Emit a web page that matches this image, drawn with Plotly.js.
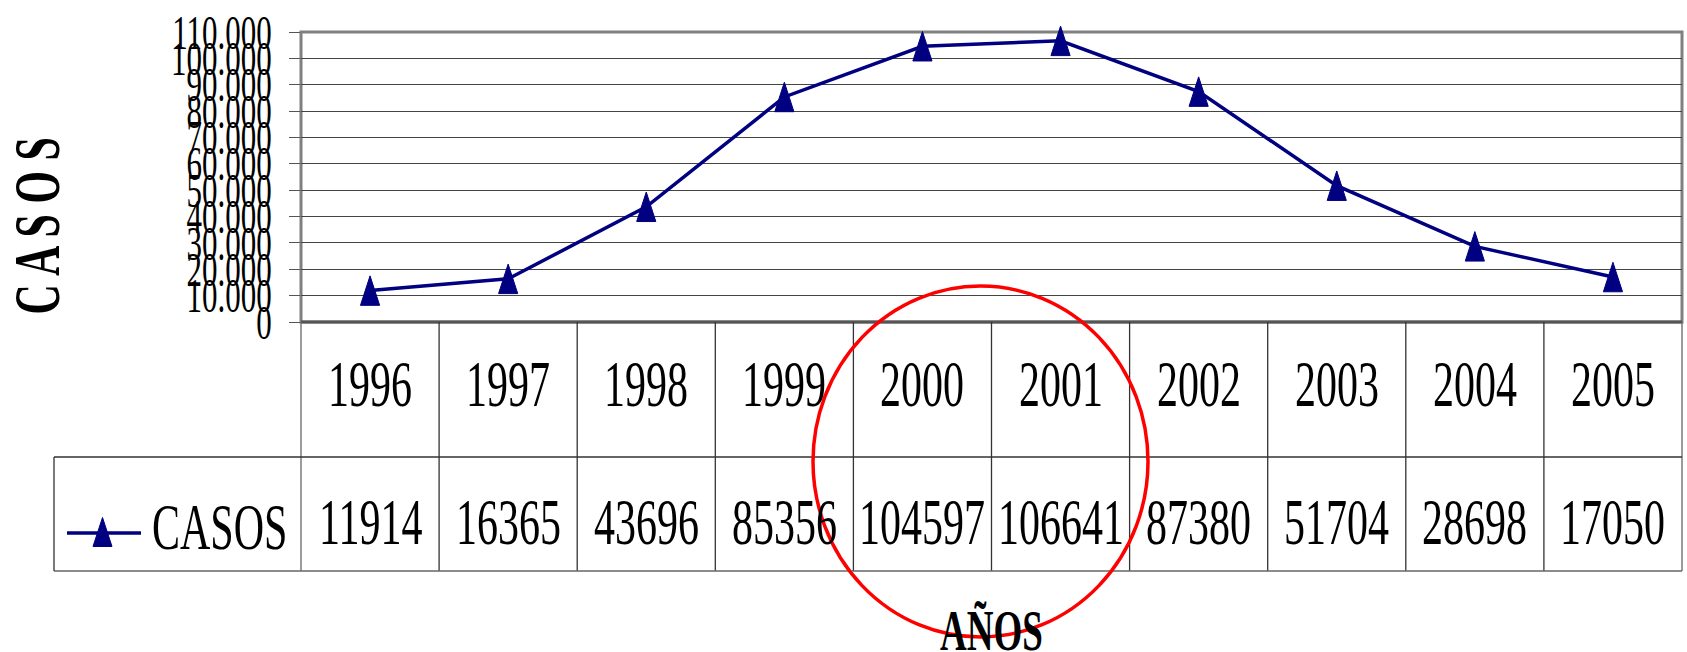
<!DOCTYPE html>
<html>
<head>
<meta charset="utf-8">
<script src="https://cdn.plot.ly/plotly-3.0.1.min.js"></script>
<style>
  html, body { margin: 0; padding: 0; background: #ffffff; }
  #chart { width: 1687px; height: 652px; }
</style>
</head>
<body>
<div id="chart"></div>
<script>
// ---------------- data ----------------
const years = ['1996', '1997', '1998', '1999', '2000', '2001', '2002', '2003', '2004', '2005'];
const casos = [11914, 16365, 43696, 85356, 104597, 106641, 87380, 51704, 28698, 17050];
const seriesName = 'CASOS';
const yAxisTitle = 'C A S O S';
const xAxisTitle = 'AÑOS';
const yMax = 110000;
const yStep = 10000;

// ---------------- layout helpers ----------------
const W = 1687, H = 652;
const M = { l: 301, r: 5, t: 32, b: 330 };
const plotW = W - M.l - M.r;
const plotH = H - M.t - M.b;
const px2x = px => (px - M.l) / plotW;            // pixel -> paper x
const px2y = py => (H - M.b - py) / plotH;        // pixel -> paper y

const NAVY = '#000080';
const SERIF = '"Liberation Serif", "Times New Roman", serif';
const LINEC = '#333333';
const MARKER_SIZE = 31;

const rowMid = px2y(457);
const rowBot = px2y(571);
const legendLeft = px2x(54);

const shapes = [];
// plot border
shapes.push({ type: 'rect', xref: 'paper', yref: 'paper', x0: 0, x1: 1, y0: 0, y1: 1,
  line: { color: '#808080', width: 3 }, layer: 'between' });
// darker bottom axis line
shapes.push({ type: 'line', xref: 'paper', yref: 'paper', x0: 0, x1: 1, y0: 0, y1: 0,
  line: { color: '#555555', width: 3 }, layer: 'above' });
// table vertical lines (column boundaries)
for (let i = 0; i <= years.length; i++) {
  const xp = i / years.length;
  shapes.push({ type: 'line', xref: 'paper', yref: 'paper', x0: xp, x1: xp, y0: 0, y1: rowBot,
    line: { color: i === 0 || i === years.length ? '#666666' : LINEC, width: 1.3 } });
}
// table horizontal lines
shapes.push({ type: 'line', xref: 'paper', yref: 'paper', x0: legendLeft, x1: 1, y0: rowMid, y1: rowMid,
  line: { color: LINEC, width: 1.3 } });
shapes.push({ type: 'line', xref: 'paper', yref: 'paper', x0: legendLeft, x1: 1, y0: rowBot, y1: rowBot,
  line: { color: '#666666', width: 1.6 } });
shapes.push({ type: 'line', xref: 'paper', yref: 'paper', x0: legendLeft, x1: legendLeft, y0: rowMid, y1: rowBot,
  line: { color: LINEC, width: 1.3 } });
// legend key: line + triangle
shapes.push({ type: 'line', xref: 'paper', yref: 'paper', x0: px2x(67), x1: px2x(141), y0: px2y(533), y1: px2y(533),
  line: { color: NAVY, width: 3.5 } });
shapes.push({ type: 'path', xref: 'paper', yref: 'paper', xsizemode: 'pixel', ysizemode: 'pixel',
  xanchor: px2x(102.5), yanchor: px2y(532),
  path: 'M0,14.5 L9.5,-14.5 L-9.5,-14.5 Z',
  fillcolor: NAVY, line: { color: NAVY, width: 1 } });
// red highlight circle
shapes.push({ type: 'circle', xref: 'paper', yref: 'paper',
  x0: px2x(813), x1: px2x(1148), y0: px2y(637), y1: px2y(286),
  line: { color: '#ff0000', width: 3.5 }, layer: 'above' });

const annotations = [];
// year row and value row of the data table (category axis -> serial index)
years.forEach((yr, i) => {
  annotations.push({ xref: 'x', yref: 'paper', x: i, y: px2y(384), text: yr, showarrow: false,
    xanchor: 'center', yanchor: 'middle', font: { family: SERIF, size: 42, color: '#000' } });
  annotations.push({ xref: 'x', yref: 'paper', x: i, y: px2y(522), text: String(casos[i]), showarrow: false,
    xanchor: 'center', yanchor: 'middle', font: { family: SERIF, size: 42, color: '#000' } });
});
// legend label
annotations.push({ xref: 'paper', yref: 'paper', x: px2x(219.5), y: px2y(527), text: seriesName, showarrow: false,
  xanchor: 'center', yanchor: 'middle', font: { family: SERIF, size: 42, color: '#000' } });
// axis titles
annotations.push({ xref: 'paper', yref: 'paper', x: px2x(37.5), y: px2y(226), text: '<b>' + yAxisTitle + '</b>',
  showarrow: false, textangle: -90, xanchor: 'center', yanchor: 'middle',
  font: { family: SERIF, size: 42, color: '#000' } });
annotations.push({ xref: 'paper', yref: 'paper', x: 0.5, y: px2y(631), text: '<b>' + xAxisTitle + '</b>',
  showarrow: false, xanchor: 'center', yanchor: 'middle',
  font: { family: SERIF, size: 37, color: '#000' } });

const trace = {
  type: 'scatter', mode: 'lines+markers', name: seriesName,
  x: years, y: casos,
  line: { color: NAVY, width: 3.5, backoff: 0 },
  marker: { symbol: 'arrow', size: MARKER_SIZE, color: NAVY, line: { color: NAVY, width: 1 } },
  cliponaxis: false, showlegend: false
};

const layout = {
  width: W, height: H,
  margin: M,
  paper_bgcolor: '#ffffff', plot_bgcolor: '#ffffff',
  separators: ',.',
  showlegend: false,
  xaxis: {
    type: 'category', range: [-0.5, years.length - 0.5],
    showgrid: false, zeroline: false, showline: false, showticklabels: false, ticks: ''
  },
  yaxis: {
    range: [0, yMax], dtick: yStep, tick0: 0, tickformat: ',d',
    showgrid: true, gridcolor: '#444444', gridwidth: 1,
    zeroline: false, showline: false,
    ticks: 'outside', ticklen: 11, tickcolor: '#555555', tickwidth: 1,
    ticklabelstandoff: 11,
    tickfont: { family: SERIF, size: 31, color: '#000' }
  },
  shapes: shapes,
  annotations: annotations
};

const gd = document.getElementById('chart');
Plotly.newPlot(gd, [trace], layout, { staticPlot: true, responsive: false, displayModeBar: false }).then(() => {
  // the original artwork is stretched vertically: reproduce the tall, narrow lettering
  const S = 1.55;
  gd.querySelectorAll('text').forEach(t => {
    if (!t.textContent.trim()) return;
    const bb = t.getBBox();
    const cy = bb.y + bb.height / 2;
    const tr = t.getAttribute('transform') || '';
    t.setAttribute('transform', (tr + ' translate(0,' + cy + ') scale(1,' + S + ') translate(0,' + (-cy) + ')').trim());
  });
  // the arrow marker has its tip on the point; centre it on the point instead
  const shift = -MARKER_SIZE / 2 * 1.902 / 2;
  gd.querySelectorAll('.scatterlayer .points path').forEach(p => {
    const tr = p.getAttribute('transform') || '';
    p.setAttribute('transform', (tr + ' translate(0,' + shift + ')').trim());
  });
});
</script>
</body>
</html>
